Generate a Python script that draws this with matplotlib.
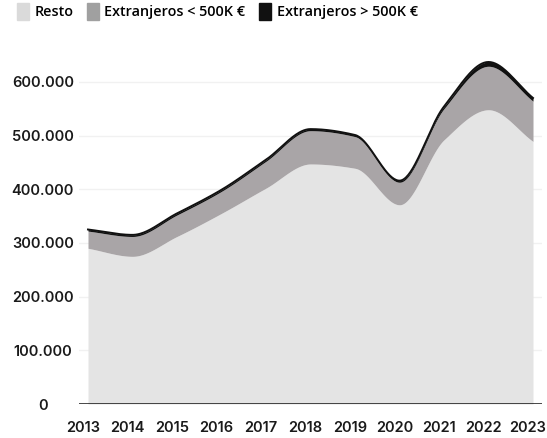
import numpy as np
from matplotlib import pyplot as plt
from matplotlib.patches import Patch
from matplotlib.transforms import ScaledTranslation

plt.rcParams['font.family'] = ['Inter', 'DejaVu Sans']
plt.rcParams['font.weight'] = 'semibold'

# datos (compraventas de vivienda)
years = [2013, 2014, 2015, 2016, 2017, 2018, 2019, 2020, 2021, 2022, 2023]
resto = [290000, 275000, 312000, 355000, 402000, 447000, 439000, 371000, 492000, 548000, 489000]
ext_menos_500k = [32000, 37000, 40000, 41000, 50000, 62000, 59000, 42000, 58000, 81000, 75000]
ext_mas_500k = [3000, 3000, 3000, 3000, 3000, 3000, 3000, 3000, 4000, 8000, 6000]
labels = ['Resto', 'Extranjeros < 500K €', 'Extranjeros > 500K €']
yticks = [0, 100000, 200000, 300000, 400000, 500000, 600000]


def monotone(x, y, n=40):  # curva monótona (tipo d3 monotoneX) para suavizar el área
    x = np.asarray(x, float)
    y = np.asarray(y, float)
    h = np.diff(x)
    d = np.diff(y) / h
    m = np.zeros_like(y)
    m[0], m[-1] = d[0], d[-1]
    for i in range(1, len(y) - 1):
        if d[i - 1] * d[i] > 0:
            m[i] = 3 * (h[i - 1] + h[i]) / ((2 * h[i] + h[i - 1]) / d[i - 1] + (h[i] + 2 * h[i - 1]) / d[i])
    xs, ys = [], []
    for i in range(len(h)):
        t = np.linspace(0, 1, n, endpoint=(i == len(h) - 1))
        h00 = 2 * t**3 - 3 * t**2 + 1
        h10 = t**3 - 2 * t**2 + t
        h01 = -2 * t**3 + 3 * t**2
        h11 = t**3 - t**2
        xs.append(x[i] + t * h[i])
        ys.append(h00 * y[i] + h10 * h[i] * m[i] + h01 * y[i + 1] + h11 * h[i] * m[i + 1])
    return np.concatenate(xs), np.concatenate(ys)


c1 = np.array(resto)
c2 = c1 + np.array(ext_menos_500k)
c3 = c2 + np.array(ext_mas_500k)
xs, y1 = monotone(years, c1)
_, y2 = monotone(years, c2)
_, y3 = monotone(years, c3)

colors = ['#e4e4e4', '#a9a5a7', '#111111']

fig = plt.figure(figsize=(5.47, 4.38), dpi=100)
ax = fig.add_axes([79 / 547, 34 / 438, 463 / 547, 349 / 438])
ax.fill_between(xs, 0, y1, color=colors[0], lw=0, zorder=2)
ax.fill_between(xs, y1, y2, color=colors[1], lw=0, zorder=2)
ax.fill_between(xs, y2, y3, color=colors[2], lw=0, zorder=2)
ax.plot(xs, y3, color=colors[2], lw=1.4, zorder=3)
ax.axhline(0, color='#111111', lw=1.8, zorder=4)

ax.set_xlim(2013 - 9 / 44.5, 2023 + 9 / 44.5)
ax.set_ylim(0, 650000)
ax.set_xticks(years, [str(y) for y in years])
ax.set_yticks(yticks, [f'{v:,.0f}'.replace(',', '.') for v in yticks])
for v in yticks[1:]:
    ax.axhline(v, color='#f1f1f1', lw=1, zorder=1)
ax.tick_params(axis='y', length=0, pad=26, labelsize=10.5, labelcolor='#1a1a1a')
ax.tick_params(axis='x', length=0, pad=12, labelsize=10.5, labelcolor='#1a1a1a')
for s in ax.spines.values():
    s.set_visible(False)
for lbl in ax.get_yticklabels():
    lbl.set_horizontalalignment('center')
# las etiquetas de los años están algo desplazadas a la izquierda en el original
shift = ScaledTranslation(-5 / 100, 0, fig.dpi_scale_trans)
for lbl in ax.get_xticklabels():
    lbl.set_transform(lbl.get_transform() + shift)

handles = [Patch(color=c) for c in ['#dadada', '#a0a0a0', '#111111']]
fig.legend(handles, labels, loc='upper left', bbox_to_anchor=(17 / 547, 1 - 3 / 438), ncol=3,
           frameon=False, handlelength=0.8, handleheight=1.45, handletextpad=0.4,
           columnspacing=0.95, borderpad=0, borderaxespad=0,
           prop={'family': ['Open Sans', 'DejaVu Sans'], 'size': 10.4, 'weight': 'semibold'})

fig.savefig('out.png', dpi=100)
